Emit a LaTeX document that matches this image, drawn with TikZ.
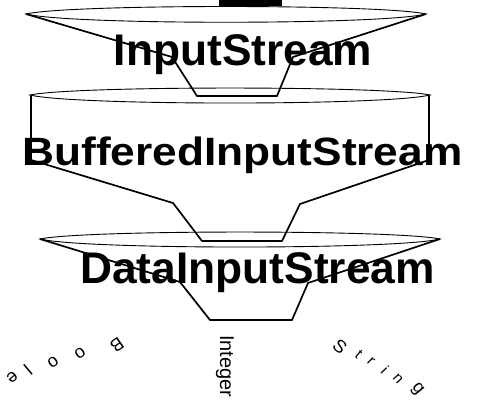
\documentclass[tikz,border=0pt]{standalone}
\usepackage{fontspec}
\usepackage{graphicx}
\setmainfont{Liberation Sans}
\begin{document}
\begin{tikzpicture}[x=1pt,y=-1pt,
  lens/.style={line width=0.9pt},
  wall/.style={line width=1.7pt, line join=round},
  stage/.style={font=\bfseries\fontsize{44.3}{50}\selectfont, inner sep=0pt, anchor=base},
  flow/.style={font=\fontsize{18}{20}\selectfont, inner sep=0pt},
  flowsmall/.style={font=\fontsize{15}{17}\selectfont, inner sep=0pt}]
\useasboundingbox (0,0) rectangle (477,400);

% feed entering the first stage
\fill (219,0) rectangle (282,6);

% stage 1: InputStream
\draw[lens] (26,14) .. controls (70,4) and (382,4) .. (426,14)
            .. controls (382,25) and (70,25) .. (26,14) -- cycle;
\draw[wall] (26,14) -- (172,57) -- (197,96) -- (277,96) -- (293,57) -- (426,14);

% stage 2: BufferedInputStream
\draw[lens] (30,95) .. controls (74,85.7) and (386,85.7) .. (430,95)
            .. controls (386,105.7) and (74,105.7) .. (30,95) -- cycle;
\draw[wall] (31,95) -- (31,160) -- (173,203) -- (202,241) -- (282,241)
            -- (300,204) -- (429,160) -- (429,95);

% stage 3: DataInputStream
\draw[lens] (40,239) .. controls (84,229.7) and (396,229.7) .. (440,239)
            .. controls (396,249.7) and (84,249.7) .. (40,239) -- cycle;
\draw[wall] (40,239) -- (180,282) -- (210,320) -- (292,320) -- (308,283) -- (440,239);

% stage labels
\node[stage] (is) at (243,65) {InputStream};
\node[stage, font=\bfseries\fontsize{39.5}{45}\selectfont] (bis) at (242.5,165)
  {\scalebox{1.12}[1]{BufferedInputStream}};
\node[stage] (dis) at (257.5,283) {DataInputStream};

% values coming out of the last stage
\node[font=\fontsize{20}{22}\selectfont, rotate=-90, anchor=base west, inner sep=0pt]
  (int) at (220,335) {Integer};

\node[flow, rotate=215] (b1) at (117,345) {B};
\node[flow, rotate=215] (b2) at (80,353) {o};
\node[flow, rotate=215] (b3) at (53,362) {o};
\node[flow, rotate=220] (b4) at (28,370) {l};
\node[flow, rotate=220] (b5) at (12,377) {e};

\node[flow, rotate=-40] (s1) at (340,347) {S};
\node[flowsmall, rotate=-42] (s2) at (359,354) {t};
\node[flowsmall, rotate=-44] (s3) at (371,361) {r};
\node[flowsmall, rotate=-46] (s4) at (385,370) {i};
\node[flowsmall, rotate=-48] (s5) at (398,379) {n};
\node[flow, rotate=-50] (s6) at (417,389) {g};
\end{tikzpicture}
\end{document}
